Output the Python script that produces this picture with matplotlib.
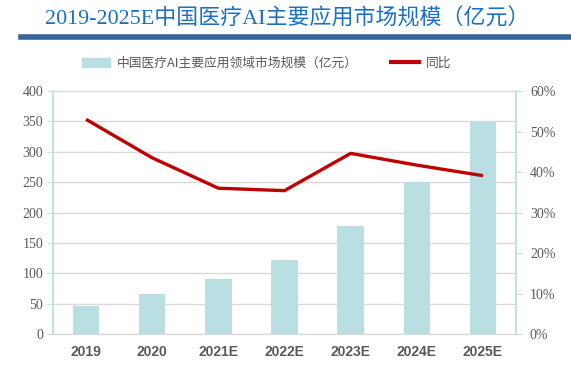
import numpy as np
import matplotlib
matplotlib.use('Agg')
import matplotlib.pyplot as plt
from matplotlib.lines import Line2D
from matplotlib.patches import Patch

years = ['2019', '2020', '2021E', '2022E', '2023E', '2024E', '2025E']
market_size = [46, 66, 90, 122, 177, 251, 349]
yoy = [0.530, 0.435, 0.360, 0.354, 0.446, 0.417, 0.391]

serif_cjk = ['Liberation Serif', 'Noto Sans CJK SC']
sans_cjk = ['Noto Sans CJK SC', 'DejaVu Sans']
grey = '#595959'
spine_col = '#bfe2e6'

fig = plt.figure(figsize=(5.71, 3.67), dpi=100)
ax = fig.add_axes([0.0928, 0.0899, 0.8109, 0.6621])
ax2 = ax.twinx()

x = np.arange(len(years))
ax.bar(x, market_size, width=0.4, color='#b9dfe3', zorder=2)
ax2.plot(x, yoy, color='#c00000', lw=2.4, solid_capstyle='butt', zorder=3)

ax.set_xlim(-0.5, 6.5)
ax.set_ylim(0, 400)
ax.set_yticks(range(0, 401, 50))
ax2.set_ylim(0, 0.6)
ax2.set_yticks(np.arange(0, 0.61, 0.1))
ax2.set_yticklabels([f'{int(round(v * 100))}%' for v in np.arange(0, 0.61, 0.1)])

ax.grid(axis='y', color='#d9d9d9', lw=1, zorder=0)
ax.set_axisbelow(True)
ax.set_xticks(x)
ax.set_xticklabels(years, fontfamily='Liberation Sans', fontweight='bold', fontsize=10, color=grey)
ax.tick_params(axis='x', length=0, pad=8)
ax.tick_params(axis='y', length=4, color=spine_col, labelsize=10, labelcolor=grey, pad=3)
ax2.tick_params(axis='y', length=4, color=spine_col, labelsize=10, labelcolor=grey, pad=6)
for lab in ax.get_yticklabels() + ax2.get_yticklabels():
    lab.set_fontfamily('Liberation Serif')

for a in (ax, ax2):
    a.spines['top'].set_visible(False)
    a.spines['left'].set_color(spine_col)
    a.spines['right'].set_color(spine_col)
    a.spines['left'].set_linewidth(1.2)
    a.spines['right'].set_linewidth(1.2)
    a.spines['bottom'].set_color('#d9d9d9')

# title and underline
fig.text(0.503, 0.948, '2019-2025E中国医疗AI主要应用市场规模（亿元）', ha='center', va='center',
         fontsize=15.8, color='#1a70c4', family=serif_cjk)
fig.add_artist(Line2D([0.036, 1.0], [0.9, 0.9], color='#336699', lw=4, transform=fig.transFigure))

handles = [Patch(color='#b9dfe3'), Line2D([], [], color='#c00000', lw=3)]
labels = ['中国医疗AI主要应用领域市场规模（亿元）', '同比']
fig.legend(handles, labels, loc='center', bbox_to_anchor=(0.467, 0.828), ncol=2, frameon=False,
           prop={'family': sans_cjk, 'size': 9.2}, labelcolor=grey, handlelength=2.2,
           handleheight=0.7, columnspacing=2.6, handletextpad=0.5)

fig.savefig('out.png', dpi=100)
